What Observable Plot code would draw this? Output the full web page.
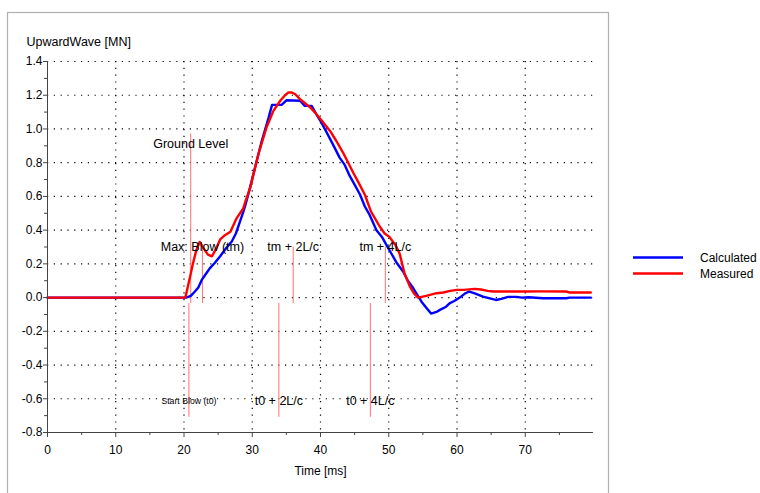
<!DOCTYPE html>
<html>
<head>
<meta charset="utf-8">
<script src="https://cdn.jsdelivr.net/npm/d3@7"></script>
<script src="https://cdn.jsdelivr.net/npm/@observablehq/plot@0.6"></script>
<style>
  html, body { margin: 0; padding: 0; background: #fff; }
  #chart svg { display: block; }
</style>
</head>
<body>
<div id="chart"></div>
<script>
// ---- Series ----
const seriesNames = ["Calculated", "Measured"];
const seriesColors = ["#0000ff", "#ff0000"];

const calcTime = [0, 20.3, 21.0, 21.6, 22.1, 22.6, 23.2, 23.8, 24.5, 25.3, 26.1, 27.0, 27.6, 28.2, 28.7, 29.0, 29.4, 30.4, 31.4, 32.4, 32.9, 34.3, 35.0, 37.0, 37.7, 38.7, 39.4, 40.1, 40.9, 41.8, 42.8, 43.5, 44.3, 45.0, 45.8, 46.5, 47.2, 48.2, 49.0, 49.7, 50.4, 51.1, 52.1, 52.8, 53.6, 54.2, 54.8, 55.5, 56.2, 57.0, 57.5, 58.4, 58.9, 59.6, 60.4, 61.2, 61.8, 62.6, 63.8, 64.8, 65.7, 66.5, 67.5, 68.7, 69.5, 70.5, 72.6, 76.0, 76.5, 79.6];
const calcValue = [0, 0, 0.01, 0.036, 0.06, 0.105, 0.14, 0.175, 0.205, 0.245, 0.29, 0.333, 0.38, 0.45, 0.51, 0.55, 0.61, 0.77, 0.93, 1.067, 1.143, 1.143, 1.17, 1.167, 1.137, 1.137, 1.087, 1.04, 0.98, 0.91, 0.83, 0.79, 0.72, 0.67, 0.61, 0.54, 0.49, 0.40, 0.36, 0.31, 0.26, 0.21, 0.155, 0.10, 0.055, 0.015, -0.024, -0.06, -0.095, -0.085, -0.073, -0.054, -0.034, -0.02, 0.0, 0.025, 0.036, 0.025, 0.006, -0.005, -0.014, -0.008, 0.004, 0.004, 0.0, 0.002, -0.004, -0.004, 0.0, 0.0];

const measTime = [0, 20.2, 20.9, 21.3, 21.8, 22.3, 22.9, 23.5, 24.1, 24.7, 25.3, 26.0, 26.8, 27.7, 28.7, 29.0, 29.7, 30.3, 30.9, 31.5, 32.1, 33.1, 34.1, 34.8, 35.3, 35.8, 36.3, 37.0, 37.2, 38.5, 39.2, 40.2, 41.4, 42.3, 43.3, 44.8, 45.6, 46.5, 47.4, 48.7, 49.4, 50.1, 51.0, 51.6, 52.3, 53.1, 53.7, 54.3, 55.5, 57.0, 58.0, 59.0, 60.0, 61.0, 62.6, 63.5, 64.5, 65.3, 70.1, 72.0, 76.0, 76.5, 79.6];
const measValue = [0, 0, 0.125, 0.20, 0.28, 0.33, 0.29, 0.255, 0.245, 0.29, 0.345, 0.37, 0.39, 0.47, 0.53, 0.57, 0.65, 0.75, 0.85, 0.93, 1.01, 1.107, 1.167, 1.20, 1.216, 1.216, 1.206, 1.177, 1.17, 1.127, 1.097, 1.048, 0.988, 0.93, 0.86, 0.74, 0.68, 0.61, 0.51, 0.42, 0.38, 0.36, 0.31, 0.26, 0.145, 0.065, 0.025, 0.0, 0.01, 0.026, 0.03, 0.04, 0.046, 0.046, 0.052, 0.048, 0.04, 0.036, 0.036, 0.037, 0.036, 0.03, 0.03];

// ---- Event markers ----
const groundLabel = "Ground Level";
const groundTime = 20.98;
const groundTop = 0.97;
const groundLabelY = 0.91;

const tmLabels = ["Max: Blow (tm)", "tm + 2L/c", "tm + 4L/c"];
const tmTimes = [22.7, 36.0, 49.5];
const tmTop = 0.30;
const tmLabelY = 0.30;

const t0Labels = ["Start Blow (t0)", "t0 + 2L/c", "t0 + 4L/c"];
const t0Times = [20.72, 33.9, 47.3];
const t0Bottom = -0.71;
const t0LabelY = -0.615;
const t0FontSizes = [8.7, 12.5, 12.5];

const markerBase = -0.035;

// ---- Axes ----
const xMajorTicks = [0, 10, 20, 30, 40, 50, 60, 70];
const xMinorTicks = [5, 15, 25, 35, 45, 55, 65, 75];
const xGrid = [10, 20, 30, 40, 50, 60, 70];
const yMajorTicks = [-0.8, -0.6, -0.4, -0.2, 0, 0.2, 0.4, 0.6, 0.8, 1.0, 1.2, 1.4];
const yMinorTicks = [-0.7, -0.5, -0.3, -0.1, 0.1, 0.3, 0.5, 0.7, 0.9, 1.1, 1.3];
const yGrid = [-0.6, -0.4, -0.2, 0, 0.2, 0.4, 0.6, 0.8, 1.0, 1.2, 1.4];
const xTitle = "Time [ms]";
const yTitle = "UpwardWave [MN]";

// ---- Build tables ----
const calcData = calcTime.map((t, i) => ({t, v: calcValue[i]}));
const measData = measTime.map((t, i) => ({t, v: measValue[i]}));
const tmData = tmTimes.map((t, i) => ({t, label: tmLabels[i]}));
const t0Data = t0Times.map((t, i) => ({t, label: t0Labels[i], fs: t0FontSizes[i]}));

const markerColor = "#ff7070";
const gridStyle = {stroke: "#000", strokeOpacity: 1, strokeWidth: 1.2, strokeDasharray: "1.2,5.6"};
const font = "'Liberation Sans', Arial, sans-serif";

const chart = Plot.plot({
  width: 760,
  height: 493,
  marginLeft: 47,
  marginRight: 167,
  marginTop: 61,
  marginBottom: 61,
  style: {fontFamily: font, fontSize: "12px", color: "#000", background: "#fff"},
  x: {domain: [0, 80], label: null},
  y: {domain: [-0.8, 1.4], label: null},
  marks: [
    Plot.gridX(xGrid, gridStyle),
    Plot.gridY(yGrid, gridStyle),
    // marker lines
    Plot.ruleX([groundTime], {y1: groundTop, y2: markerBase, stroke: markerColor, strokeWidth: 1}),
    Plot.ruleX(tmData, {x: "t", y1: tmTop, y2: markerBase, stroke: markerColor, strokeWidth: 1}),
    Plot.ruleX(t0Data, {x: "t", y1: markerBase, y2: t0Bottom, stroke: markerColor, strokeWidth: 1}),
    // series
    Plot.line(calcData, {x: "t", y: "v", stroke: seriesColors[0], strokeWidth: 2.4}),
    Plot.line(measData, {x: "t", y: "v", stroke: seriesColors[1], strokeWidth: 2.4}),
    // labels
    Plot.text([groundLabel], {x: groundTime, y: groundLabelY, text: d => d, fontSize: 12.5, fill: "#000"}),
    Plot.text(tmData, {x: "t", y: tmLabelY, text: "label", fontSize: 12.5, fill: "#000"}),
    Plot.text(t0Data, {x: "t", y: t0LabelY, text: "label", fontSize: d => d.fs, fill: "#000"}),
    // axes
    Plot.axisX(xMinorTicks, {tickSize: 3, tickFormat: () => "", stroke: "#444", label: null}),
    Plot.axisX(xMajorTicks, {tickSize: 5, tickPadding: 8, tickFormat: d => String(d), fontSize: 12, stroke: "#444", fill: "#000", label: null}),
    Plot.axisY(yMinorTicks, {tickSize: 3, tickFormat: () => "", stroke: "#444", label: null}),
    Plot.axisY(yMajorTicks, {tickSize: 4, tickPadding: 1, tickFormat: d => d.toFixed(1), fontSize: 12, stroke: "#444", fill: "#000", label: null}),
    Plot.ruleY([-0.8], {stroke: "#444"}),
    Plot.ruleX([0], {stroke: "#444"}),
    // titles
    Plot.text([yTitle], {frameAnchor: "top-left", dx: -21, dy: -20, text: d => d, textAnchor: "start", lineAnchor: "middle", fontSize: 12.5, fill: "#000"}),
    Plot.text([xTitle], {frameAnchor: "bottom", dy: 39, text: d => d, lineAnchor: "middle", fontSize: 12, fill: "#000"})
  ]
});

document.getElementById("chart").appendChild(chart);

// Outer border box and legend (decoration outside the plot frame)
const svg = d3.select(chart);
svg.append("rect")
  .attr("x", 7.5).attr("y", 12.5).attr("width", 601).attr("height", 500)
  .attr("fill", "none").attr("stroke", "#b0b0b0").attr("stroke-width", 1.2);

const legend = svg.append("g")
  .attr("font-family", font).attr("font-size", 12).attr("text-anchor", "start");
const legendY = [257.5, 273.5];
seriesNames.forEach((name, i) => {
  legend.append("line")
    .attr("x1", 633).attr("x2", 683).attr("y1", legendY[i]).attr("y2", legendY[i])
    .attr("stroke", seriesColors[i]).attr("stroke-width", 2.4);
  legend.append("text")
    .attr("x", 700).attr("y", legendY[i]).attr("dy", "0.35em")
    .attr("text-anchor", "start")
    .attr("fill", "#000").text(name);
});
</script>
</body>
</html>
